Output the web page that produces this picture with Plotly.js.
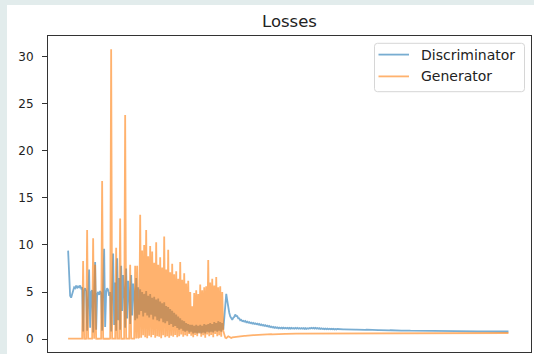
<!DOCTYPE html>
<html>
<head>
<meta charset="utf-8">
<script src="https://cdn.plot.ly/plotly-3.0.1.min.js"></script>
<style>
  html, body { margin: 0; padding: 0; background: #e2ecec; width: 534px; height: 354px; overflow: hidden; }
  #chart { position: absolute; left: 7px; top: 5px; width: 527px; height: 349px; background: #ffffff; }
</style>
</head>
<body>
<div id="chart"></div>
<script>
// Loss values per training step (index = step)
const discriminatorLoss = [
  9.4, 5.6, 4.6, 4.4, 4.8, 5.3, 5.5, 5.4, 5.7, 5.4,
  5.6, 5.5, 5.7, 5.4, 5.5, 0.8, 5.2, 5.4, 5.1, 0.9,
  5.3, 7.4, 1.2, 5.0, 5.2, 0.7, 4.9, 8.2, 1.0, 4.8,
  5.0, 4.7, 5.1, 4.9, 0.9, 4.8, 9.6, 1.3, 5.0, 5.4,
  5.2, 4.6, 5.0, 0.8, 5.3, 9.1, 1.5, 6.0, 0.9, 8.6,
  2.0, 6.5, 1.0, 7.8, 3.0, 6.8, 5.2, 1.2, 7.5, 2.2,
  6.2, 4.8, 1.6, 6.8, 2.5, 5.9, 5.0, 2.0, 6.5, 2.2,
  5.5, 2.6, 5.3, 3.0, 5.0, 2.4, 4.8, 2.8, 5.1, 2.5,
  4.6, 2.3, 4.8, 2.6, 4.4, 2.1, 4.5, 2.4, 4.2, 2.0,
  4.3, 1.9, 4.0, 2.2, 3.8, 1.8, 3.9, 1.7, 3.5, 1.9,
  3.4, 1.5, 3.2, 1.6, 3.0, 1.3, 2.8, 1.4, 2.6, 1.2,
  2.4, 1.0, 2.2, 1.1, 2.0, 0.9, 1.9, 0.8, 1.7, 0.9,
  1.6, 0.7, 1.5, 0.8, 1.5, 0.6, 1.4, 0.7, 1.5, 0.6,
  1.4, 0.7, 1.5, 0.6, 1.4, 0.7, 1.6, 0.6, 1.5, 0.8,
  1.6, 0.7, 1.7, 0.8, 1.6, 0.7, 1.8, 0.9, 1.7, 0.8,
  1.9, 0.9, 1.8, 0.8, 1.7, 1.0, 2.2, 4.0, 4.8, 4.1,
  3.3, 2.8, 2.4, 2.2, 2.05, 2.25, 2.35, 2.6, 2.45, 2.45,
  2.2, 2.2, 2.0, 2.05, 1.9, 1.95, 1.85, 1.92, 1.78, 1.85,
  1.74, 1.8, 1.69, 1.76, 1.65, 1.72, 1.62, 1.68, 1.58, 1.64,
  1.53, 1.6, 1.48, 1.55, 1.45, 1.51, 1.41, 1.48, 1.37, 1.43,
  1.32, 1.39, 1.28, 1.34, 1.24, 1.3, 1.2, 1.27, 1.18, 1.24,
  1.15, 1.23, 1.14, 1.22, 1.13, 1.22, 1.13, 1.2, 1.13, 1.2,
  1.12, 1.19, 1.12, 1.19, 1.12, 1.18, 1.11, 1.19, 1.11, 1.19,
  1.11, 1.17, 1.11, 1.17, 1.1, 1.17, 1.09, 1.16, 1.09, 1.15,
  1.1, 1.17, 1.12, 1.2, 1.13, 1.2, 1.12, 1.2, 1.12, 1.18,
  1.1, 1.16, 1.08, 1.14, 1.07, 1.13, 1.06, 1.12, 1.05, 1.11,
  1.04, 1.1, 1.04, 1.09, 1.04, 1.09, 1.03, 1.08, 1.03, 1.07,
  1.05, 1.04, 1.05, 1.04, 1.04, 1.03, 1.04, 1.03, 1.03, 1.02,
  1.03, 1.02, 1.02, 1.01, 1.02, 1.01, 1.01, 1.0, 1.01, 1.0,
  1.0, 1.01, 1.0, 1.0, 0.99, 1.0, 0.99, 0.99, 1.0, 0.99,
  0.98, 0.99, 0.98, 0.98, 0.97, 0.98, 0.97, 0.97, 0.96, 0.97,
  0.96, 0.96, 0.95, 0.96, 0.95, 0.95, 0.94, 0.95, 0.94, 0.94,
  0.94, 0.93, 0.94, 0.93, 0.93, 0.92, 0.93, 0.92, 0.92, 0.92,
  0.92, 0.91, 0.92, 0.91, 0.91, 0.92, 0.91, 0.9, 0.91, 0.9,
  0.9, 0.91, 0.9, 0.9, 0.89, 0.9, 0.89, 0.9, 0.89, 0.89,
  0.89, 0.88, 0.89, 0.89, 0.88, 0.89, 0.88, 0.88, 0.89, 0.88,
  0.88, 0.87, 0.88, 0.87, 0.88, 0.87, 0.87, 0.88, 0.87, 0.86,
  0.87, 0.86, 0.87, 0.86, 0.86, 0.87, 0.86, 0.86, 0.85, 0.86,
  0.86, 0.85, 0.86, 0.85, 0.85, 0.86, 0.85, 0.85, 0.84, 0.85,
  0.85, 0.84, 0.85, 0.84, 0.85, 0.84, 0.84, 0.85, 0.84, 0.84,
  0.84, 0.83, 0.84, 0.83, 0.84, 0.83, 0.83, 0.84, 0.83, 0.83,
  0.83, 0.82, 0.83, 0.82, 0.83, 0.82, 0.82, 0.83, 0.82, 0.82,
  0.82, 0.81, 0.82, 0.81, 0.82, 0.81, 0.81, 0.82, 0.81, 0.81,
  0.81, 0.8, 0.81, 0.8, 0.81, 0.8, 0.81, 0.8, 0.81, 0.8, 0.81
];

const generatorLoss = [
  0.05, 0.04, 0.05, 0.06, 0.05, 0.04, 0.05, 0.05, 0.06, 0.05,
  0.05, 0.04, 0.05, 0.05, 0.06, 8.3, 0.05, 0.04, 0.05, 11.6,
  0.05, 0.06, 0.05, 0.04, 0.05, 10.7, 0.05, 7.9, 0.05, 0.04,
  0.05, 0.06, 0.05, 0.05, 16.8, 0.05, 0.04, 0.06, 0.05, 0.05,
  0.05, 0.04, 0.06, 30.8, 0.05, 0.05, 0.06, 0.05, 9.7, 0.05,
  0.06, 0.05, 12.8, 0.05, 0.04, 0.06, 0.05, 23.8, 0.05, 0.06,
  0.05, 0.05, 7.9, 0.06, 0.05, 0.05, 0.06, 7.8, 0.06, 7.8,
  0.1, 0.2, 13.2, 0.15, 9.4, 0.4, 10.0, 0.2, 11.6, 0.1,
  8.8, 0.35, 9.9, 0.2, 9.3, 0.45, 8.1, 0.15, 10.3, 0.3,
  7.9, 0.25, 8.7, 0.1, 7.6, 0.4, 10.9, 0.2, 7.4, 0.3,
  9.5, 0.15, 7.1, 0.35, 8.0, 0.25, 6.9, 0.45, 7.2, 0.2,
  6.4, 0.3, 8.2, 0.5, 6.3, 0.25, 7.0, 0.4, 5.9, 0.3,
  6.2, 0.55, 5.0, 0.35, 3.5, 0.2, 4.9, 0.45, 5.2, 0.3,
  4.8, 0.6, 5.8, 0.25, 5.2, 0.4, 5.5, 0.15, 5.6, 0.5,
  8.4, 0.3, 6.0, 0.45, 6.4, 0.2, 5.7, 0.55, 6.6, 0.3,
  5.5, 0.4, 5.6, 0.25, 5.0, 0.9, 0.3, 0.15, 0.1, 0.2,
  0.3, 0.25, 0.15, 0.12, 0.18, 0.2, 0.22, 0.2, 0.25, 0.27,
  0.3, 0.28, 0.3, 0.32, 0.31, 0.33, 0.35, 0.34, 0.36, 0.37,
  0.38, 0.38, 0.4, 0.39, 0.41, 0.42, 0.42, 0.43, 0.44, 0.44,
  0.45, 0.46, 0.45, 0.47, 0.47, 0.48, 0.48, 0.49, 0.49, 0.5,
  0.5, 0.51, 0.5, 0.52, 0.51, 0.52, 0.53, 0.52, 0.53, 0.53,
  0.54, 0.53, 0.54, 0.55, 0.54, 0.55, 0.55, 0.56, 0.55, 0.56,
  0.56, 0.56, 0.57, 0.56, 0.57, 0.57, 0.58, 0.57, 0.58, 0.58,
  0.58, 0.59, 0.58, 0.59, 0.59, 0.58, 0.59, 0.6, 0.59, 0.6,
  0.6, 0.59, 0.6, 0.6, 0.61, 0.6, 0.6, 0.61, 0.6, 0.61,
  0.61, 0.6, 0.61, 0.61, 0.62, 0.61, 0.61, 0.62, 0.61, 0.62,
  0.62, 0.61, 0.62, 0.62, 0.61, 0.62, 0.63, 0.62, 0.62, 0.63,
  0.62, 0.63, 0.62, 0.63, 0.63, 0.62, 0.63, 0.62, 0.63, 0.63,
  0.63, 0.62, 0.63, 0.63, 0.64, 0.63, 0.62, 0.63, 0.63, 0.64,
  0.63, 0.63, 0.64, 0.63, 0.64, 0.63, 0.63, 0.64, 0.63, 0.64,
  0.64, 0.63, 0.64, 0.64, 0.63, 0.64, 0.64, 0.63, 0.64, 0.64,
  0.63, 0.64, 0.64, 0.65, 0.64, 0.63, 0.64, 0.64, 0.65, 0.64,
  0.64, 0.63, 0.64, 0.65, 0.64, 0.64, 0.63, 0.64, 0.65, 0.64,
  0.64, 0.65, 0.64, 0.63, 0.64, 0.65, 0.64, 0.64, 0.65, 0.64,
  0.63, 0.64, 0.65, 0.64, 0.64, 0.65, 0.64, 0.63, 0.64, 0.65,
  0.64, 0.64, 0.65, 0.64, 0.65, 0.64, 0.63, 0.64, 0.65, 0.64,
  0.65, 0.64, 0.64, 0.65, 0.64, 0.65, 0.64, 0.64, 0.65, 0.64,
  0.64, 0.65, 0.64, 0.65, 0.65, 0.64, 0.64, 0.65, 0.64, 0.65,
  0.65, 0.64, 0.65, 0.64, 0.65, 0.65, 0.64, 0.65, 0.64, 0.65,
  0.64, 0.65, 0.65, 0.64, 0.65, 0.64, 0.65, 0.65, 0.64, 0.65,
  0.65, 0.64, 0.65, 0.65, 0.64, 0.65, 0.65, 0.64, 0.65, 0.65,
  0.64, 0.65, 0.65, 0.66, 0.65, 0.64, 0.65, 0.65, 0.64, 0.65,
  0.65, 0.65, 0.64, 0.65, 0.66, 0.65, 0.65, 0.64, 0.65, 0.65,
  0.65, 0.64, 0.65, 0.65, 0.66, 0.65, 0.65, 0.64, 0.65, 0.65, 0.65
];

const seriesNames = ['Discriminator', 'Generator'];
const seriesColors = ['#1f77b4', '#ff7f0e'];
const yTickValues = [0, 5, 10, 15, 20, 25, 30];
const yTickLabels = ['0', '5', '10', '15', '20', '25', '30'];
const chartTitle = 'Losses';

const FONT = '"DejaVu Sans", Verdana, sans-serif';
const steps = discriminatorLoss.map((_, i) => i);

const traces = [
  {
    x: steps, y: discriminatorLoss, name: seriesNames[0], type: 'scatter', mode: 'lines',
    line: { color: seriesColors[0], width: 1.8 }, opacity: 0.6
  },
  {
    x: steps.slice(0, generatorLoss.length), y: generatorLoss, name: seriesNames[1], type: 'scatter', mode: 'lines',
    line: { color: seriesColors[1], width: 1.8 }, opacity: 0.6
  }
];

// --- legend box drawn in paper coordinates (pixel layout converted) ---
const W = 527, H = 349, ML = 41, MR = 3, MT = 31, MB = 2;
const PW = W - ML - MR, PH = H - MT - MB;
const DIV_X = 7, DIV_Y = 5; // div offset on page
const px = X => (X - DIV_X - ML) / PW;
const py = Y => 1 - (Y - DIV_Y - MT) / PH;

const box = { x0: 374.5, x1: 524.5, y0: 43.3, y1: 91.7, r: 3 };
function roundedRectPath(b) {
  const rx = b.r / PW, ry = b.r / PH;
  const L = px(b.x0), R = px(b.x1), T = py(b.y0), B = py(b.y1);
  return `M ${L + rx} ${T} L ${R - rx} ${T} Q ${R} ${T} ${R} ${T - ry} ` +
         `L ${R} ${B + ry} Q ${R} ${B} ${R - rx} ${B} L ${L + rx} ${B} ` +
         `Q ${L} ${B} ${L} ${B + ry} L ${L} ${T - ry} Q ${L} ${T} ${L + rx} ${T} Z`;
}
const rowsY = [54.6, 76.4];
const shapes = [
  { type: 'path', xref: 'paper', yref: 'paper', path: roundedRectPath(box),
    fillcolor: 'rgba(255,255,255,0.85)', line: { color: '#d6d6d6', width: 1 }, layer: 'above' }
];
const annotations = [];
seriesNames.forEach((name, i) => {
  shapes.push({ type: 'line', xref: 'paper', yref: 'paper',
    x0: px(378.5), x1: px(409), y0: py(rowsY[i]), y1: py(rowsY[i]),
    line: { color: seriesColors[i], width: 1.8 }, opacity: 0.6, layer: 'above' });
  annotations.push({ xref: 'paper', yref: 'paper', x: px(418.5), y: py(rowsY[i]),
    xanchor: 'left', yanchor: 'middle', showarrow: false, text: name,
    font: { family: FONT, size: 14, color: '#222222' } });
});

const layout = {
  width: W, height: H,
  paper_bgcolor: '#ffffff', plot_bgcolor: '#ffffff',
  margin: { l: ML, r: MR, t: MT, b: MB, pad: 0 },
  font: { family: FONT, color: '#222222' },
  title: {
    text: chartTitle, font: { family: FONT, size: 16.5, color: '#222222' },
    x: 0.5, xref: 'paper', xanchor: 'center',
    y: 0.954, yref: 'container', yanchor: 'middle'
  },
  showlegend: false,
  shapes: shapes,
  annotations: annotations,
  xaxis: {
    range: [-20.1, 462.5], showgrid: false, zeroline: false,
    showline: true, mirror: true, linecolor: '#333333', linewidth: 1,
    ticks: '', showticklabels: false
  },
  yaxis: {
    range: [-1.37, 32.2], showgrid: false, zeroline: false,
    showline: true, mirror: true, linecolor: '#333333', linewidth: 1,
    tickmode: 'array', tickvals: yTickValues, ticktext: yTickLabels,
    ticks: 'outside', ticklen: 5, tickwidth: 1, tickcolor: '#333333',
    ticklabelstandoff: 6,
    tickfont: { family: FONT, size: 12, color: '#222222' }
  }
};

Plotly.newPlot('chart', traces, layout, { displayModeBar: false, staticPlot: true });
</script>
</body>
</html>
